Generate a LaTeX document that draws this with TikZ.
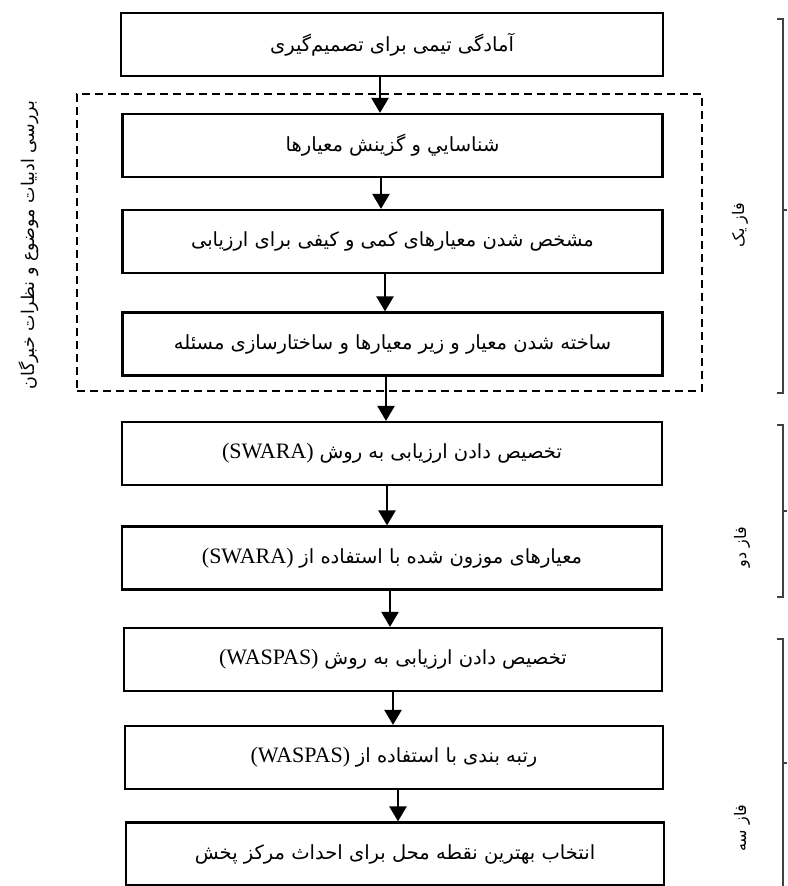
\documentclass[tikz,border=0pt]{standalone}
\usepackage{fontspec}
\usetikzlibrary{arrows.meta}
\TeXXeTstate=1
\newfontfamily\arfont[Script=Arabic]{DejaVu Sans}
\newfontfamily\latfont{Liberation Serif}
\newcommand{\lat}[1]{{\latfont\fontsize{22}{25}\selectfont #1}}
\newcommand{\fa}[1]{{\arfont\beginR #1\endR}}
\tikzset{
  stepbox/.style={draw=black, line width=2.2pt, minimum width=540pt, minimum height=63pt,
    inner sep=0pt, font=\fontsize{19.5}{23}\selectfont},
  litbox/.style={draw=black, line width=2.4pt, dash pattern=on 8pt off 5pt, minimum width=625pt, minimum height=297pt, inner sep=0pt},
  arr/.style={draw=black, line width=2.4pt, -{Triangle[width=17pt,length=15pt]}},
  brk/.style={draw=black!75, line width=1.1pt},
  sidelab/.style={rotate=90, inner sep=0pt, font=\fontsize{16}{20}\selectfont},
  litlabel/.style={rotate=90, inner sep=0pt, font=\fontsize{17.5}{21}\selectfont}
}
\begin{document}
\begin{tikzpicture}[x=1pt,y=-1pt]
\useasboundingbox (0,0) rectangle (787,886);
\fill[white] (0,0) rectangle (787,886);

\node[litbox] (lit) at (389.5,242.5) {};

\node[stepbox, minimum width=542pt] (b1) at (392,44.5) {\fa{آمادگی تیمی برای تصمیم‌گیری}};
\node[stepbox] (b2) at (392.5,145.5) {\fa{شناسايي و گزينش معيارها}};
\node[stepbox] (b3) at (392.5,241.5) {\fa{مشخص شدن معیارهای کمی و کیفی برای ارزیابی}};
\node[stepbox] (b4) at (392.5,344) {\fa{ساخته شدن معیار و زیر معیارها و ساختارسازی مسئله}};
\node[stepbox] (b5) at (392,453.5) {\lat{(SWARA)}\ \fa{تخصیص دادن ارزیابی به روش}};
\node[stepbox] (b6) at (392,558) {\lat{(SWARA)}\ \fa{معیارهای موزون شده با استفاده از}};
\node[stepbox, minimum width=538pt] (b7) at (393,659.5) {\lat{(WASPAS)}\ \fa{تخصیص دادن ارزیابی به روش}};
\node[stepbox, minimum width=538pt] (b8) at (394,757.5) {\lat{(WASPAS)}\ \fa{رتبه بندی با استفاده از}};
\node[stepbox, minimum width=538pt] (b9) at (395,854) {\fa{انتخاب بهترین نقطه محل برای احداث مرکز پخش}};

\coordinate (x1) at (380,0);
\coordinate (x2) at (381,0);
\coordinate (x3) at (385,0);
\coordinate (x4) at (386,0);
\coordinate (x5) at (387,0);
\coordinate (x6) at (390,0);
\coordinate (x7) at (393,0);
\coordinate (x8) at (398,0);
\draw[arr] (b1.south -| x1) -- (b2.north -| x1);
\draw[arr] (b2.south -| x2) -- (b3.north -| x2);
\draw[arr] (b3.south -| x3) -- (b4.north -| x3);
\draw[arr] (b4.south -| x4) -- (b5.north -| x4);
\draw[arr] (b5.south -| x5) -- (b6.north -| x5);
\draw[arr] (b6.south -| x6) -- (b7.north -| x6);
\draw[arr] (b7.south -| x7) -- (b8.north -| x7);
\draw[arr] (b8.south -| x8) -- (b9.north -| x8);

\node[litlabel] (litlab) at (29,245) {\fa{بررسی ادبیات موضوع و نظرات خبرگان}};

\draw[brk] (777,19) -- (783,19) -- (783,393) -- (777,393);
\draw[brk] (783,210) -- (787,210);
\draw[brk] (777,425) -- (783,425) -- (783,597) -- (777,597);
\draw[brk] (783,511) -- (787,511);
\draw[brk] (777,639) -- (783,639) -- (783,890);
\draw[brk] (783,763) -- (787,763);

\node[sidelab] (ph1) at (740,225) {\fa{فاز یک}};
\node[sidelab] (ph2) at (742,547) {\fa{فاز دو}};
\node[sidelab] (ph3) at (742,828) {\fa{فاز سه}};
\end{tikzpicture}
\end{document}
